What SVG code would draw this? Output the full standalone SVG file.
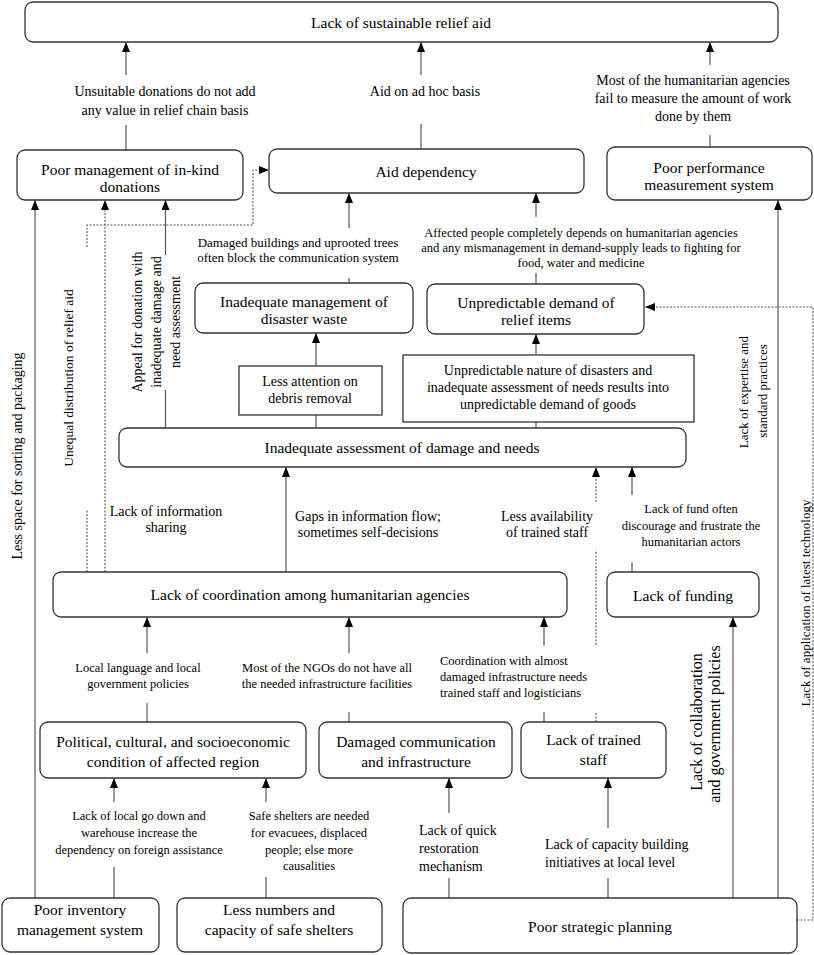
<svg xmlns="http://www.w3.org/2000/svg" width="814" height="955" viewBox="0 0 814 955">
<style>
.b{fill:#fff;stroke:#333;stroke-width:1.3}
.t{font-family:"Liberation Serif","Times New Roman",serif;fill:#000;text-anchor:middle}
.bt{font-size:15.5px}
.rt{font-size:14px}
.l{fill:none;stroke:#555;stroke-width:1.2}
.d{fill:none;stroke:#555;stroke-width:1.1;stroke-dasharray:2 1.5}
</style>
<defs>
<marker id="ah" viewBox="0 0 10 8" refX="10" refY="4" markerWidth="10" markerHeight="8" markerUnits="userSpaceOnUse" orient="auto">
<path d="M0,0 L10,4 L0,8 z" fill="#000"/>
</marker>
</defs>
<rect width="814" height="955" fill="#fff"/>

<g id="connectors">
<path class="l" d="M126,75 V42" marker-end="url(#ah)"/>
<path class="l" d="M126,125 V150"/>
<path class="l" d="M421,75 V42" marker-end="url(#ah)"/>
<path class="l" d="M421,124 V149"/>
<path class="l" d="M710,65 V42" marker-end="url(#ah)"/>
<path class="l" d="M710,135 V147"/>
<path class="l" d="M35,898 V200" marker-end="url(#ah)"/>
<path class="l" d="M165.5,255 V200" marker-end="url(#ah)"/>
<path class="l" d="M165.5,428 V390"/>
<path class="l" d="M349,228 V193" marker-end="url(#ah)"/>
<path class="l" d="M349,278 V283"/>
<path class="l" d="M536,217 V193" marker-end="url(#ah)"/>
<path class="l" d="M536,273 V284"/>
<path class="l" d="M316,366 V333" marker-end="url(#ah)"/>
<path class="l" d="M316,415 V428"/>
<path class="l" d="M536,354 V334" marker-end="url(#ah)"/>
<path class="l" d="M536,422 V428"/>
<path class="l" d="M286,572 V467" marker-end="url(#ah)"/>
<path class="l" d="M632,495 V467" marker-end="url(#ah)"/>
<path class="l" d="M632,562 V572"/>
<path class="l" d="M147,653 V617" marker-end="url(#ah)"/>
<path class="l" d="M147,703 V722"/>
<path class="l" d="M349,653 V617" marker-end="url(#ah)"/>
<path class="l" d="M349,712 V722"/>
<path class="l" d="M544,646 V617" marker-end="url(#ah)"/>
<path class="l" d="M544,712 V722"/>
<path class="l" d="M114,802 V778" marker-end="url(#ah)"/>
<path class="l" d="M114,867 V898"/>
<path class="l" d="M266,802 V778" marker-end="url(#ah)"/>
<path class="l" d="M266,877 V898"/>
<path class="l" d="M449,813 V778" marker-end="url(#ah)"/>
<path class="l" d="M449,878 V898"/>
<path class="l" d="M608,828 V778" marker-end="url(#ah)"/>
<path class="l" d="M608,878 V898"/>
<path class="l" d="M733,898 V617" marker-end="url(#ah)"/>
<path class="l" d="M778,898 V200" marker-end="url(#ah)"/>
<path class="d" d="M105,572 V200" marker-end="url(#ah)"/>
<path class="d" d="M87,572 V510"/>
<path class="d" d="M87,247 V225 H253 V170 H269" marker-end="url(#ah)"/>
<path class="d" d="M596,722 V713"/>
<path class="d" d="M596,645 V550"/>
<path class="d" d="M596,502 V467" marker-end="url(#ah)"/>
<path class="d" d="M797,920 H813 V307 H645" marker-end="url(#ah)"/>
</g>

<g id="n-top"><rect class="b" x="25" y="2" width="753" height="40" rx="8"/><text class="t bt" x="401" y="28">Lack of sustainable relief aid</text></g>
<g id="n-inkind"><rect class="b" x="17" y="150" width="226" height="50" rx="8"/><text class="t bt" x="130" y="175">Poor management of in-kind</text><text class="t bt" x="130" y="192">donations</text></g>
<g id="n-aiddep"><rect class="b" x="269" y="149" width="315" height="44" rx="8"/><text class="t bt" x="426" y="177">Aid dependency</text></g>
<g id="n-perf"><rect class="b" x="607" y="147" width="205" height="53" rx="8"/><text class="t bt" x="709" y="173">Poor performance</text><text class="t bt" x="709" y="190">measurement system</text></g>
<g id="n-waste"><rect class="b" x="195" y="283" width="218" height="50" rx="8"/><text class="t bt" x="304" y="307">Inadequate management of</text><text class="t bt" x="304" y="324">disaster waste</text></g>
<g id="n-demand"><rect class="b" x="427" y="284" width="217" height="50" rx="8"/><text class="t bt" x="536" y="308">Unpredictable demand of</text><text class="t bt" x="536" y="325">relief items</text></g>
<g id="n-debris"><rect class="b" x="239" y="366" width="143" height="49"/><text class="t rt" x="310" y="386">Less attention on</text><text class="t rt" x="310" y="403">debris removal</text></g>
<g id="n-nature"><rect class="b" x="403" y="355" width="291" height="67"/><text class="t rt" x="548" y="375">Unpredictable nature of disasters and</text><text class="t rt" x="548" y="392">inadequate assessment of needs results into</text><text class="t rt" x="548" y="409">unpredictable demand of goods</text></g>
<g id="n-assess"><rect class="b" x="119" y="428" width="567" height="39" rx="8"/><text class="t bt" x="402" y="453">Inadequate assessment of damage and needs</text></g>
<g id="n-coord"><rect class="b" x="53" y="572" width="514" height="45" rx="8"/><text class="t bt" x="310" y="600">Lack of coordination among humanitarian agencies</text></g>
<g id="n-fund"><rect class="b" x="607" y="572" width="152" height="45" rx="8"/><text class="t bt" x="683" y="601">Lack of funding</text></g>
<g id="n-polit"><rect class="b" x="40" y="722" width="266" height="56" rx="8"/><text class="t bt" x="173" y="747">Political, cultural, and socioeconomic</text><text class="t bt" x="173" y="767">condition of affected region</text></g>
<g id="n-infra"><rect class="b" x="319" y="722" width="193" height="56" rx="8"/><text class="t bt" x="416" y="747">Damaged communication</text><text class="t bt" x="416" y="767">and infrastructure</text></g>
<g id="n-staff"><rect class="b" x="521" y="722" width="145" height="56" rx="8"/><text class="t bt" x="593.5" y="745">Lack of trained</text><text class="t bt" x="593.5" y="765">staff</text></g>
<g id="n-inv"><rect class="b" x="2" y="898" width="157" height="54" rx="8"/><text class="t bt" x="80" y="915">Poor inventory</text><text class="t bt" x="80" y="935">management system</text></g>
<g id="n-shelter"><rect class="b" x="177" y="898" width="205" height="54" rx="8"/><text class="t bt" x="279" y="915">Less numbers and</text><text class="t bt" x="279" y="935">capacity of safe shelters</text></g>
<g id="n-strat"><rect class="b" x="403" y="898" width="394" height="55" rx="8"/><text class="t bt" x="600" y="932">Poor strategic planning</text></g>

<g id="labels" class="t">
<text font-size="14" x="165" y="96">Unsuitable donations do not add</text>
<text font-size="14" x="165" y="115">any value in relief chain basis</text>
<text font-size="14" x="425" y="96">Aid on ad hoc basis</text>
<text font-size="14" x="693" y="85">Most of the humanitarian agencies</text>
<text font-size="14" x="693" y="103">fail to measure the amount of work</text>
<text font-size="14" x="693" y="121">done by them</text>
<text font-size="13" x="298" y="247">Damaged buildings and uprooted trees</text>
<text font-size="13" x="298" y="262">often block the communication system</text>
<text font-size="12.5" x="581" y="237">Affected people completely depends on humanitarian agencies</text>
<text font-size="12.5" x="581" y="252">and any mismanagement in demand-supply leads to fighting for</text>
<text font-size="12.5" x="581" y="267">food, water and medicine</text>
<text font-size="14" x="166" y="516">Lack of information</text>
<text font-size="14" x="166" y="532">sharing</text>
<text font-size="14" x="368" y="521">Gaps in information flow;</text>
<text font-size="14" x="368" y="537">sometimes self-decisions</text>
<text font-size="14" x="547" y="521">Less availability</text>
<text font-size="14" x="547" y="537">of trained staff</text>
<text font-size="12.5" x="691" y="513">Lack of fund often</text>
<text font-size="12.5" x="691" y="530">discourage and frustrate the</text>
<text font-size="12.5" x="691" y="546">humanitarian actors</text>
<text font-size="12.5" x="138" y="672">Local language and local</text>
<text font-size="12.5" x="138" y="688">government policies</text>
<text font-size="12.5" x="327" y="672">Most of the NGOs do not have all</text>
<text font-size="12.5" x="327" y="688">the needed infrastructure facilities</text>
<text font-size="12.5" x="440" y="665" text-anchor="start">Coordination with almost</text>
<text font-size="12.5" x="440" y="681" text-anchor="start">damaged infrastructure needs</text>
<text font-size="12.5" x="440" y="697" text-anchor="start">trained staff and logisticians</text>
<text font-size="12.5" x="139" y="820">Lack of local go down and</text>
<text font-size="12.5" x="139" y="837">warehouse increase the</text>
<text font-size="12.5" x="139" y="854">dependency on foreign assistance</text>
<text font-size="12.5" x="309" y="820">Safe shelters are needed</text>
<text font-size="12.5" x="309" y="837">for evacuees, displaced</text>
<text font-size="12.5" x="309" y="854">people; else more</text>
<text font-size="12.5" x="309" y="870">causalities</text>
<text font-size="14" x="419" y="835" text-anchor="start">Lack of quick</text>
<text font-size="14" x="419" y="853" text-anchor="start">restoration</text>
<text font-size="14" x="419" y="871" text-anchor="start">mechanism</text>
<text font-size="14" x="545" y="849" text-anchor="start">Lack of capacity building</text>
<text font-size="14" x="545" y="867" text-anchor="start">initiatives at local level</text>
<text font-size="14" x="22" y="456" transform="rotate(-90 22 456)">Less space for sorting and packaging</text>
<text font-size="13.5" x="73" y="378" transform="rotate(-90 73 378)">Unequal distribution of relief aid</text>
<text font-size="14" x="142" y="322" transform="rotate(-90 142 322)">Appeal for donation with</text>
<text font-size="14" x="161" y="322" transform="rotate(-90 161 322)">inadequate damage and</text>
<text font-size="14" x="180" y="322" transform="rotate(-90 180 322)">need assessment</text>
<text font-size="13" x="748" y="392" transform="rotate(-90 748 392)">Lack of expertise and</text>
<text font-size="13" x="767" y="391" transform="rotate(-90 767 391)">standard practices</text>
<text font-size="13" x="810" y="603" transform="rotate(-90 810 603)">Lack of application of latest technology</text>
<text font-size="16" x="702" y="722" transform="rotate(-90 702 722)">Lack of collaboration</text>
<text font-size="16" x="720" y="724" transform="rotate(-90 720 724)">and government policies</text>
</g>
</svg>
